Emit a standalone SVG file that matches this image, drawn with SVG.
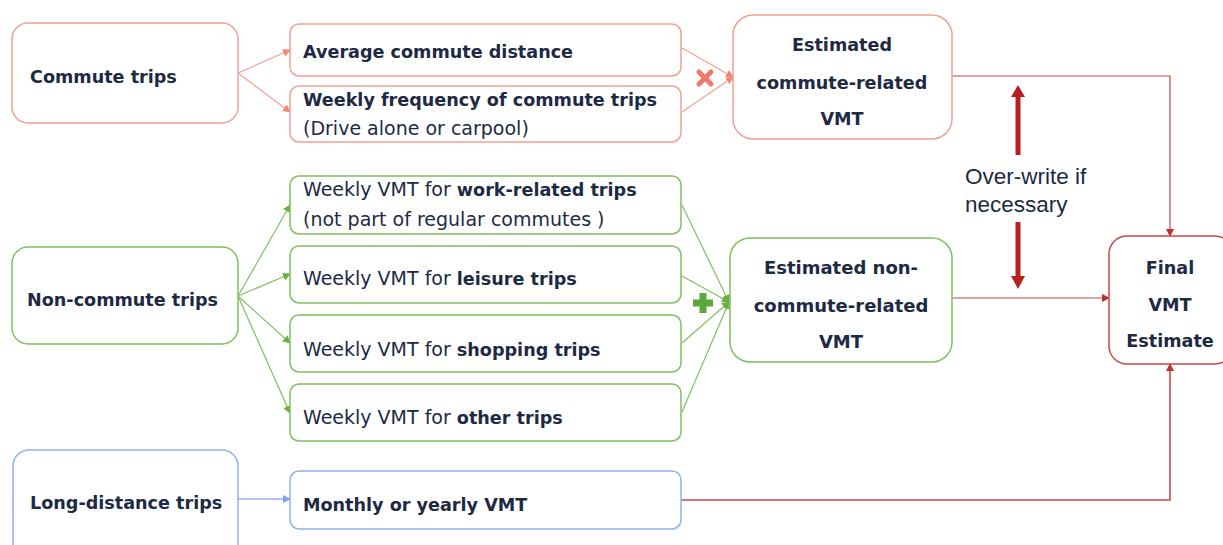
<svg xmlns="http://www.w3.org/2000/svg" width="1223" height="545" viewBox="0 0 1223 545">
<style>
.box{fill:#fff;stroke-width:1.5}
.sal{stroke:#f0a096}
.grn{stroke:#80c060}
.blu{stroke:#90b0ee}
.red{stroke:#c84848}
text{font-family:"DejaVu Sans","Liberation Sans",sans-serif;fill:#1e2944}
.b{font-weight:bold;font-size:17.6px}
.r{font-size:19px}
.ov{font-family:"Liberation Sans",Arial,sans-serif;font-size:22.5px;fill:#1e2944}
.cs{stroke:#f0a096;stroke-width:1.2;fill:none}
.cg{stroke:#80c060;stroke-width:1.2;fill:none}
.cb{stroke:#90b0ee;stroke-width:1.5;fill:none}
.cr{stroke:#c84848;stroke-width:1.2;fill:none}
</style>
<defs>
<marker id="as" markerWidth="8" markerHeight="8" refX="7" refY="4" orient="auto" markerUnits="userSpaceOnUse"><path d="M0,0 L8,4 L0,8 z" fill="#f08878"/></marker>
<marker id="ag" markerWidth="8" markerHeight="8" refX="7" refY="4" orient="auto" markerUnits="userSpaceOnUse"><path d="M0,0 L8,4 L0,8 z" fill="#6ab040"/></marker>
<marker id="ab" markerWidth="8" markerHeight="8" refX="7" refY="4" orient="auto" markerUnits="userSpaceOnUse"><path d="M0,0 L8,4 L0,8 z" fill="#80a0e8"/></marker>
<marker id="ar" markerWidth="8" markerHeight="8" refX="7" refY="4" orient="auto" markerUnits="userSpaceOnUse"><path d="M0,0 L8,4 L0,8 z" fill="#c03030"/></marker>
</defs>

<g id="connectors">
<path class="cs" d="M238,73 L290,50" marker-end="url(#as)"/>
<path class="cs" d="M238,73 L290,112" marker-end="url(#as)"/>
<path class="cs" d="M682,48 L733,77" marker-end="url(#as)"/>
<path class="cs" d="M682,112 L733,77" marker-end="url(#as)"/>
<path class="cg" d="M238,296 L290,205" marker-end="url(#ag)"/>
<path class="cg" d="M238,296 L290,274" marker-end="url(#ag)"/>
<path class="cg" d="M238,296 L290,343" marker-end="url(#ag)"/>
<path class="cg" d="M238,296 L290,413" marker-end="url(#ag)"/>
<path class="cg" d="M682,205 L729,302" marker-end="url(#ag)"/>
<path class="cg" d="M682,276 L729,302" marker-end="url(#ag)"/>
<path class="cg" d="M682,343 L729,302" marker-end="url(#ag)"/>
<path class="cg" d="M682,412 L729,302" marker-end="url(#ag)"/>
<path class="cb" d="M238,499 L290,499" marker-end="url(#ab)"/>
<path class="cr" d="M952,76 L1170,76 L1170,236" marker-end="url(#ar)"/>
<path class="cr" d="M952,298 L1109,298" marker-end="url(#ar)"/>
<path class="cr" d="M681,500 L1170,500 L1170,364" marker-end="url(#ar)" style="stroke-width:1.6"/>
</g>

<g id="ops">
<path d="M699,72 L711,84 M711,72 L699,84" stroke="#f07868" stroke-width="5" stroke-linecap="round"/>
<rect x="699.5" y="293" width="7" height="20" fill="#5aa838"/>
<rect x="693" y="299.5" width="20" height="7" fill="#5aa838"/>
</g>

<g id="overwrite">
<rect x="1015.5" y="95" width="5" height="60" fill="#b82020"/>
<path d="M1011,97 L1018,85 L1025,97 z" fill="#b82020"/>
<rect x="1015.5" y="222" width="5" height="56" fill="#b82020"/>
<path d="M1011,276 L1018,289 L1025,276 z" fill="#b82020"/>
<text class="ov" x="965" y="184">Over-write if</text>
<text class="ov" x="965" y="212">necessary</text>
</g>

<g id="commute">
<rect class="box sal" x="12" y="23" width="226" height="100" rx="16"/>
<text class="b" x="30" y="83">Commute trips</text>
</g>
<g id="avg-distance">
<rect class="box sal" x="290" y="24" width="391" height="52" rx="9"/>
<text class="b" x="303" y="58">Average commute distance</text>
</g>
<g id="weekly-freq">
<rect class="box sal" x="290" y="86" width="391" height="56" rx="9"/>
<text class="b" x="303" y="106">Weekly frequency of commute trips</text>
<text class="r" x="303" y="135">(Drive alone or carpool)</text>
</g>
<g id="est-commute">
<rect class="box sal" x="733" y="15" width="219" height="124" rx="20"/>
<text class="b" x="842" y="51" text-anchor="middle">Estimated</text>
<text class="b" x="842" y="89" text-anchor="middle">commute-related</text>
<text class="b" x="842" y="125" text-anchor="middle">VMT</text>
</g>

<g id="noncommute">
<rect class="box grn" x="12" y="247" width="226" height="97" rx="16"/>
<text class="b" x="27" y="306">Non-commute trips</text>
</g>
<g id="work">
<rect class="box grn" x="290" y="176" width="391" height="58" rx="9"/>
<text class="r" x="303" y="196">Weekly VMT for <tspan font-weight="bold" font-size="17.6px">work-related trips</tspan></text>
<text class="r" x="303" y="226">(not part of regular commutes )</text>
</g>
<g id="leisure">
<rect class="box grn" x="290" y="246" width="391" height="57" rx="9"/>
<text class="r" x="303" y="285">Weekly VMT for <tspan font-weight="bold" font-size="17.6px">leisure trips</tspan></text>
</g>
<g id="shopping">
<rect class="box grn" x="290" y="315" width="391" height="57" rx="9"/>
<text class="r" x="303" y="356">Weekly VMT for <tspan font-weight="bold" font-size="17.6px">shopping trips</tspan></text>
</g>
<g id="other">
<rect class="box grn" x="290" y="384" width="391" height="57" rx="9"/>
<text class="r" x="303" y="424">Weekly VMT for <tspan font-weight="bold" font-size="17.6px">other trips</tspan></text>
</g>
<g id="est-noncommute">
<rect class="box grn" x="730" y="238" width="222" height="124" rx="20"/>
<text class="b" x="841" y="274" text-anchor="middle" style="font-size:18px">Estimated non-</text>
<text class="b" x="841" y="312" text-anchor="middle" style="font-size:18px">commute-related</text>
<text class="b" x="841" y="348" text-anchor="middle" style="font-size:18px">VMT</text>
</g>

<g id="longdist">
<rect class="box blu" x="13" y="450" width="225" height="110" rx="16"/>
<text class="b" x="30" y="509">Long-distance trips</text>
</g>
<g id="monthly">
<rect class="box blu" x="290" y="471" width="391" height="58" rx="9"/>
<text class="b" x="303" y="511">Monthly or yearly VMT</text>
</g>

<g id="final">
<rect class="box red" x="1109" y="236" width="124" height="128" rx="18"/>
<text class="b" x="1170" y="274" text-anchor="middle">Final</text>
<text class="b" x="1170" y="311" text-anchor="middle">VMT</text>
<text class="b" x="1170" y="347" text-anchor="middle">Estimate</text>
</g>
</svg>
